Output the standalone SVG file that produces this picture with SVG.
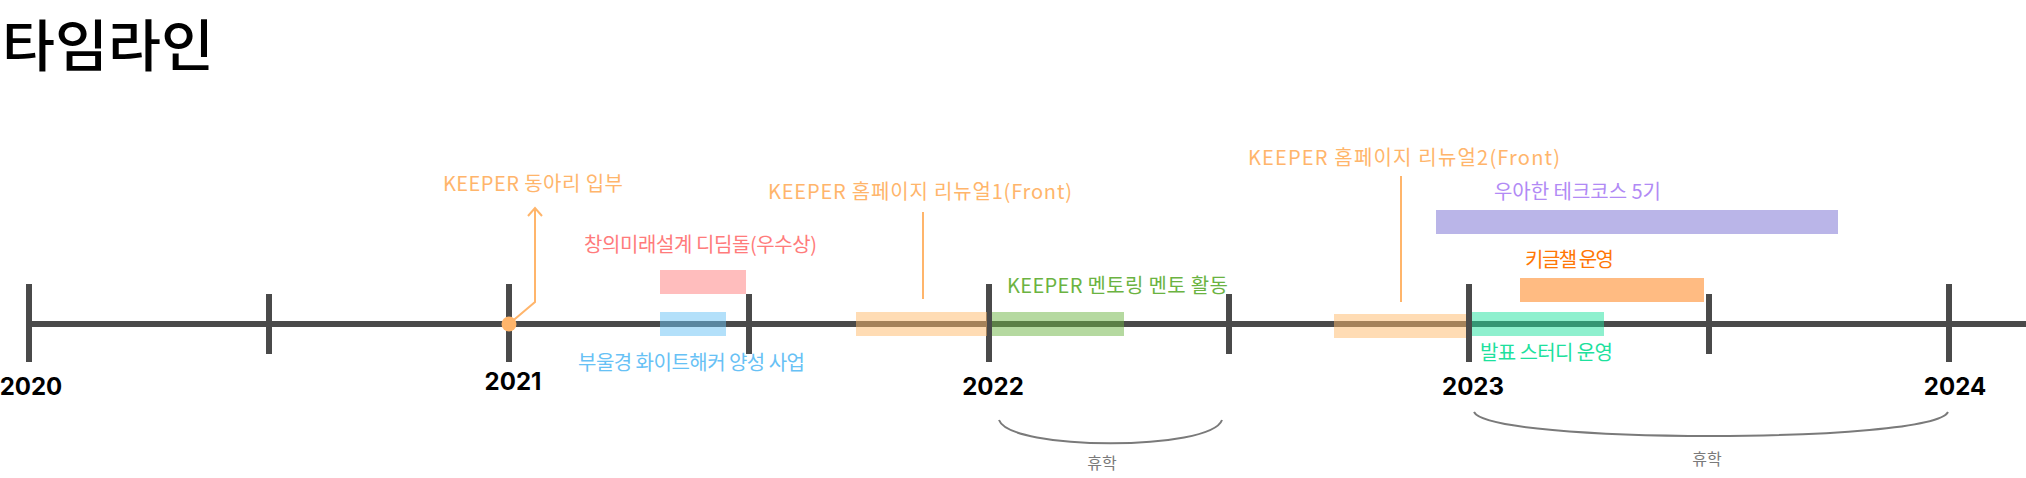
<svg xmlns="http://www.w3.org/2000/svg" width="2026" height="478" viewBox="0 0 2026 478">
<defs>
<style>
.hw{font-family:"Noto Sans CJK KR","Noto Sans",sans-serif;font-size:20px}
.yr{font-family:Inter,"Liberation Sans",sans-serif;font-size:24px;font-weight:700;fill:#000;text-anchor:middle}
.tick{stroke:#4a4a4a;stroke-width:6}
.axis{stroke:#4a4a4a;stroke-width:6}
.lead{stroke:#FFB56B;stroke-width:2;fill:none}
.brace{stroke:#7a7a7a;stroke-width:2;fill:none}
.rest{font-family:"Noto Sans CJK KR",sans-serif;font-size:16px;fill:#7a7a7a;text-anchor:middle}
</style>
</defs>
<rect width="2026" height="478" fill="#fff"/>
<text id="title" x="2" y="66" font-family="'Noto Sans CJK KR',sans-serif" font-size="56" font-weight="500" textLength="212" lengthAdjust="spacingAndGlyphs">타임라인</text>

<g id="axis">
<line class="axis" x1="29" y1="324" x2="2026" y2="324"/>
<line class="tick" x1="29" y1="284" x2="29" y2="362"/>
<line class="tick" x1="269" y1="294" x2="269" y2="354"/>
<line class="tick" x1="509" y1="284" x2="509" y2="362"/>
<line class="tick" x1="749" y1="294" x2="749" y2="354"/>
<line class="tick" x1="989" y1="284" x2="989" y2="362"/>
<line class="tick" x1="1229" y1="294" x2="1229" y2="354"/>
<line class="tick" x1="1469" y1="284" x2="1469" y2="362"/>
<line class="tick" x1="1709" y1="294" x2="1709" y2="354"/>
<line class="tick" x1="1949" y1="284" x2="1949" y2="362"/>
</g>

<g id="years">
<text class="yr" x="31" y="395">2020</text>
<text class="yr" x="513" y="390">2021</text>
<text class="yr" x="993" y="395">2022</text>
<text class="yr" x="1473" y="395">2023</text>
<text class="yr" x="1955" y="395">2024</text>
</g>

<g id="connectors">
<polyline class="lead" points="509,324 535,302 535,208"/>
<polyline class="lead" points="528,216 535,208 542,216"/>
<line class="lead" x1="923" y1="212" x2="923" y2="299"/>
<line class="lead" x1="1401" y1="176" x2="1401" y2="302"/>
<path class="brace" d="M999,420 C1010,451 1211,451 1222,420"/>
<path class="brace" d="M1474,412 C1490,444 1932,444 1948,412"/>
</g>

<g id="keeper-join">
<circle cx="509" cy="324" r="7.5" fill="#FFB56B"/>
<text class="hw" x="443" y="191" fill="#FFB56B" textLength="180">KEEPER 동아리 입부</text>
</g>

<g id="dream">
<rect x="660" y="270" width="86" height="24" fill="#FF7B7B" fill-opacity="0.5"/>
<text class="hw" x="584" y="252" fill="#FF7B7B" textLength="233">창의미래설계 디딤돌(우수상)</text>
</g>

<g id="whitehacker">
<rect x="660" y="312" width="66" height="24" fill="#67C1F5" fill-opacity="0.5"/>
<text class="hw" x="578" y="370" fill="#67C1F5" textLength="227">부울경 화이트해커 양성 사업</text>
</g>

<g id="renewal1">
<rect x="856" y="312" width="131" height="24" fill="#FFB969" fill-opacity="0.5"/>
<text class="hw" x="768" y="199" fill="#FFB56B" textLength="304">KEEPER 홈페이지 리뉴얼1(Front)</text>
</g>

<g id="mentoring">
<rect x="992" y="312" width="132" height="24" fill="#6BB341" fill-opacity="0.5"/>
<text class="hw" x="1007" y="293" fill="#6BB341" textLength="221">KEEPER 멘토링 멘토 활동</text>
</g>

<g id="renewal2">
<rect x="1334" y="314" width="132" height="24" fill="#FFB969" fill-opacity="0.5"/>
<text class="hw" x="1248" y="165" fill="#FFB56B" textLength="312">KEEPER 홈페이지 리뉴얼2(Front)</text>
</g>

<g id="presentation-study">
<rect x="1472" y="312" width="132" height="24" fill="#1DE19D" fill-opacity="0.5"/>
<text class="hw" x="1480" y="360" fill="#1DE19D" textLength="133">발표 스터디 운영</text>
</g>

<g id="techcourse">
<rect x="1436" y="210" width="402" height="24" fill="#BAB5E8"/>
<text class="hw" x="1494" y="199" fill="#B18AF5" textLength="167">우아한 테크코스 5기</text>
</g>

<g id="kigeulchael">
<rect x="1520" y="278" width="184" height="24" fill="#FF7705" fill-opacity="0.5"/>
<text class="hw" x="1525" y="267" fill="#FF7705" textLength="89">키글챌 운영</text>
</g>

<g id="leave1">
<text class="rest" x="1102" y="469">휴학</text>
</g>
<g id="leave2">
<text class="rest" x="1707" y="465">휴학</text>
</g>
</svg>
